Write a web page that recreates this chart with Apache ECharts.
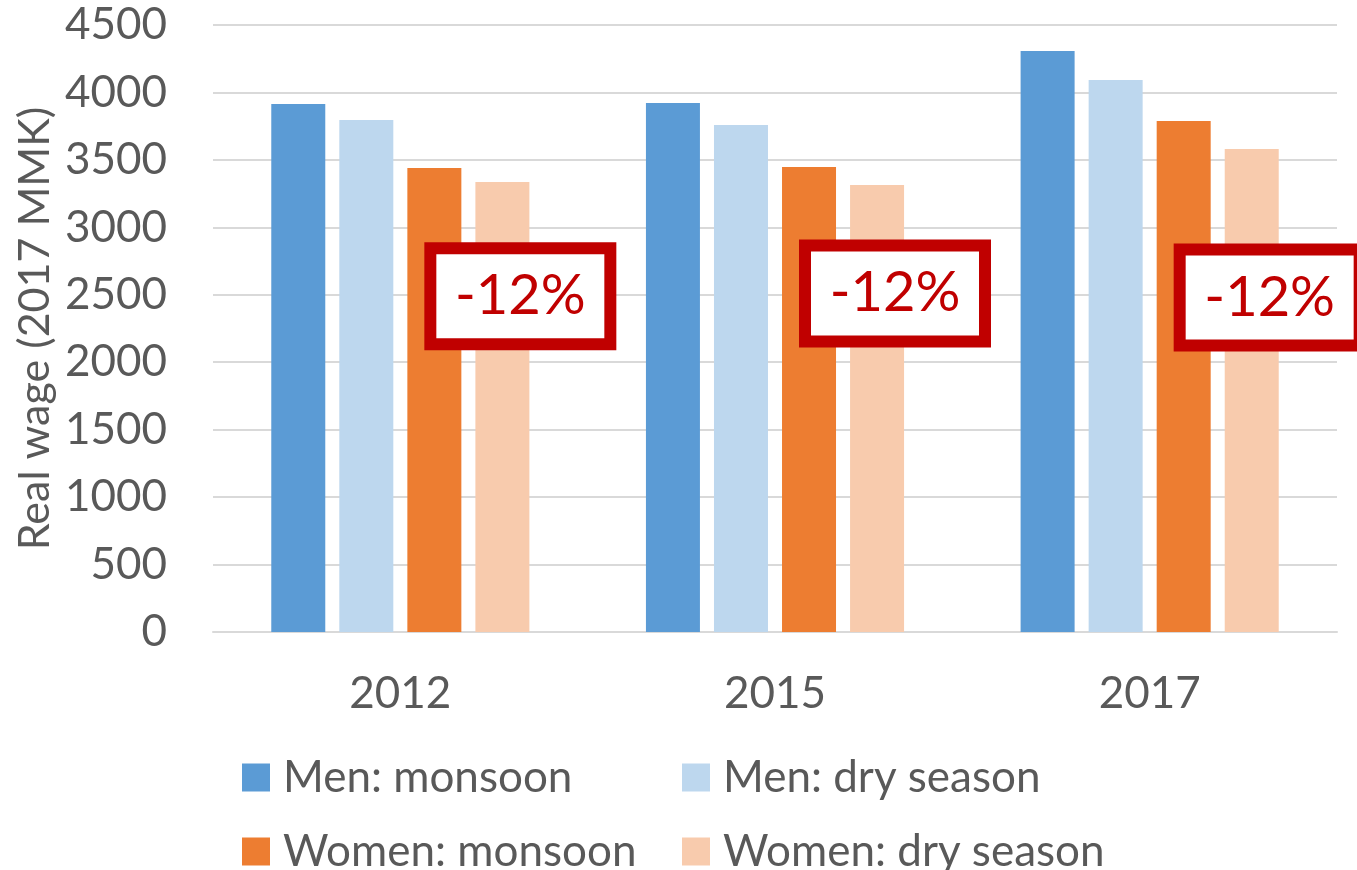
<!DOCTYPE html>
<html>
<head>
<meta charset="utf-8">
<script src="https://cdn.jsdelivr.net/npm/echarts@6/dist/echarts.min.js"></script>
<style>
	html, body {margin: 0; padding: 0; background: #fff;}
	#main {width: 1357px; height: 870px;}
</style>
</head>
<body>
<div id="main"></div>
<script>
// data
const years = ['2012', '2015', '2017'];
const menMonsoon = [3914, 3922, 4307];
const menDry = [3796, 3759, 4092];
const womenMonsoon = [3440, 3447, 3788];
const womenDry = [3336, 3314, 3581];
const seriesNames = ['Men: monsoon', 'Men: dry season', 'Women: monsoon', 'Women: dry season'];
const yTicks = [0, 4500, 500];   // min, max, step
// the red "-12%" boxes, one per year, anchored at a value on the y axis
const annoLabels = ['-12%', '-12%', '-12%'];
const annoValue = [2490, 2510, 2480];

const font = 'Lato';
const grey = '#595959';
const colors = ['#5B9BD5', '#BDD7EE', '#ED7D31', '#F8CBAD'];

const chart = echarts.init(document.getElementById('main'));

const bar = (name, data, i) => ({
	name: name,
	type: 'bar',
	data: data,
	barWidth: 54,
	barGap: '26%',
	itemStyle: {color: colors[i]}
});

chart.setOption({
	animation: false,
	textStyle: {fontFamily: font},
	grid: {left: 213, right: 20, top: 25, bottom: 238},
	legend: {
		data: seriesNames,
		left: 237,
		top: 745,
		width: 880,
		itemWidth: 28,
		itemHeight: 28,
		itemGap: 19,
		icon: 'rect',
		textStyle: {
			fontFamily: font,
			fontSize: 44,
			color: grey,
			width: 380,
			lineHeight: 55,
			padding: [0, 0, 0, 8]
		}
	},
	xAxis: {
		type: 'category',
		data: years,
		axisLine: {lineStyle: {color: '#d9d9d9', width: 2}},
		axisTick: {show: false},
		axisLabel: {fontSize: 44, color: grey, margin: 40, fontFamily: font}
	},
	yAxis: {
		type: 'value',
		min: yTicks[0],
		max: yTicks[1],
		interval: yTicks[2],
		name: 'Real wage (2017 MMK)',
		nameLocation: 'middle',
		nameGap: 156,
		nameMoveOverlap: false,
		nameTextStyle: {fontSize: 43, color: grey, fontFamily: font},
		axisLine: {show: false},
		axisTick: {show: false},
		axisLabel: {fontSize: 44, color: grey, margin: 46, fontFamily: font, formatter: v => String(v)},
		splitLine: {lineStyle: {color: '#d9d9d9', width: 2}}
	},
	series: [
		bar(seriesNames[0], menMonsoon, 0),
		bar(seriesNames[1], menDry, 1),
		bar(seriesNames[2], womenMonsoon, 2),
		bar(seriesNames[3], womenDry, 3)
	]
});

// boxes placed through the chart's own scales
const boxDx = 120;
const boxW = 180, boxH = 96, boxLine = 12;
let elements = [];
years.forEach((y, i) => {
	const p = chart.convertToPixel({gridIndex: 0}, [i, annoValue[i]]);
	const cx = p[0] + boxDx, cy = p[1];
	elements.push({
		type: 'rect',
		shape: {x: cx - boxW / 2, y: cy - boxH / 2, width: boxW, height: boxH},
		style: {fill: '#fff', stroke: '#C00000', lineWidth: boxLine},
		z: 100
	});
	elements.push({
		type: 'text',
		x: cx,
		y: cy,
		style: {
			text: annoLabels[i],
			fill: '#C00000',
			font: '56px ' + font,
			align: 'center',
			verticalAlign: 'middle'
		},
		z: 101
	});
});
chart.setOption({graphic: {elements: elements}});
</script>
</body>
</html>
